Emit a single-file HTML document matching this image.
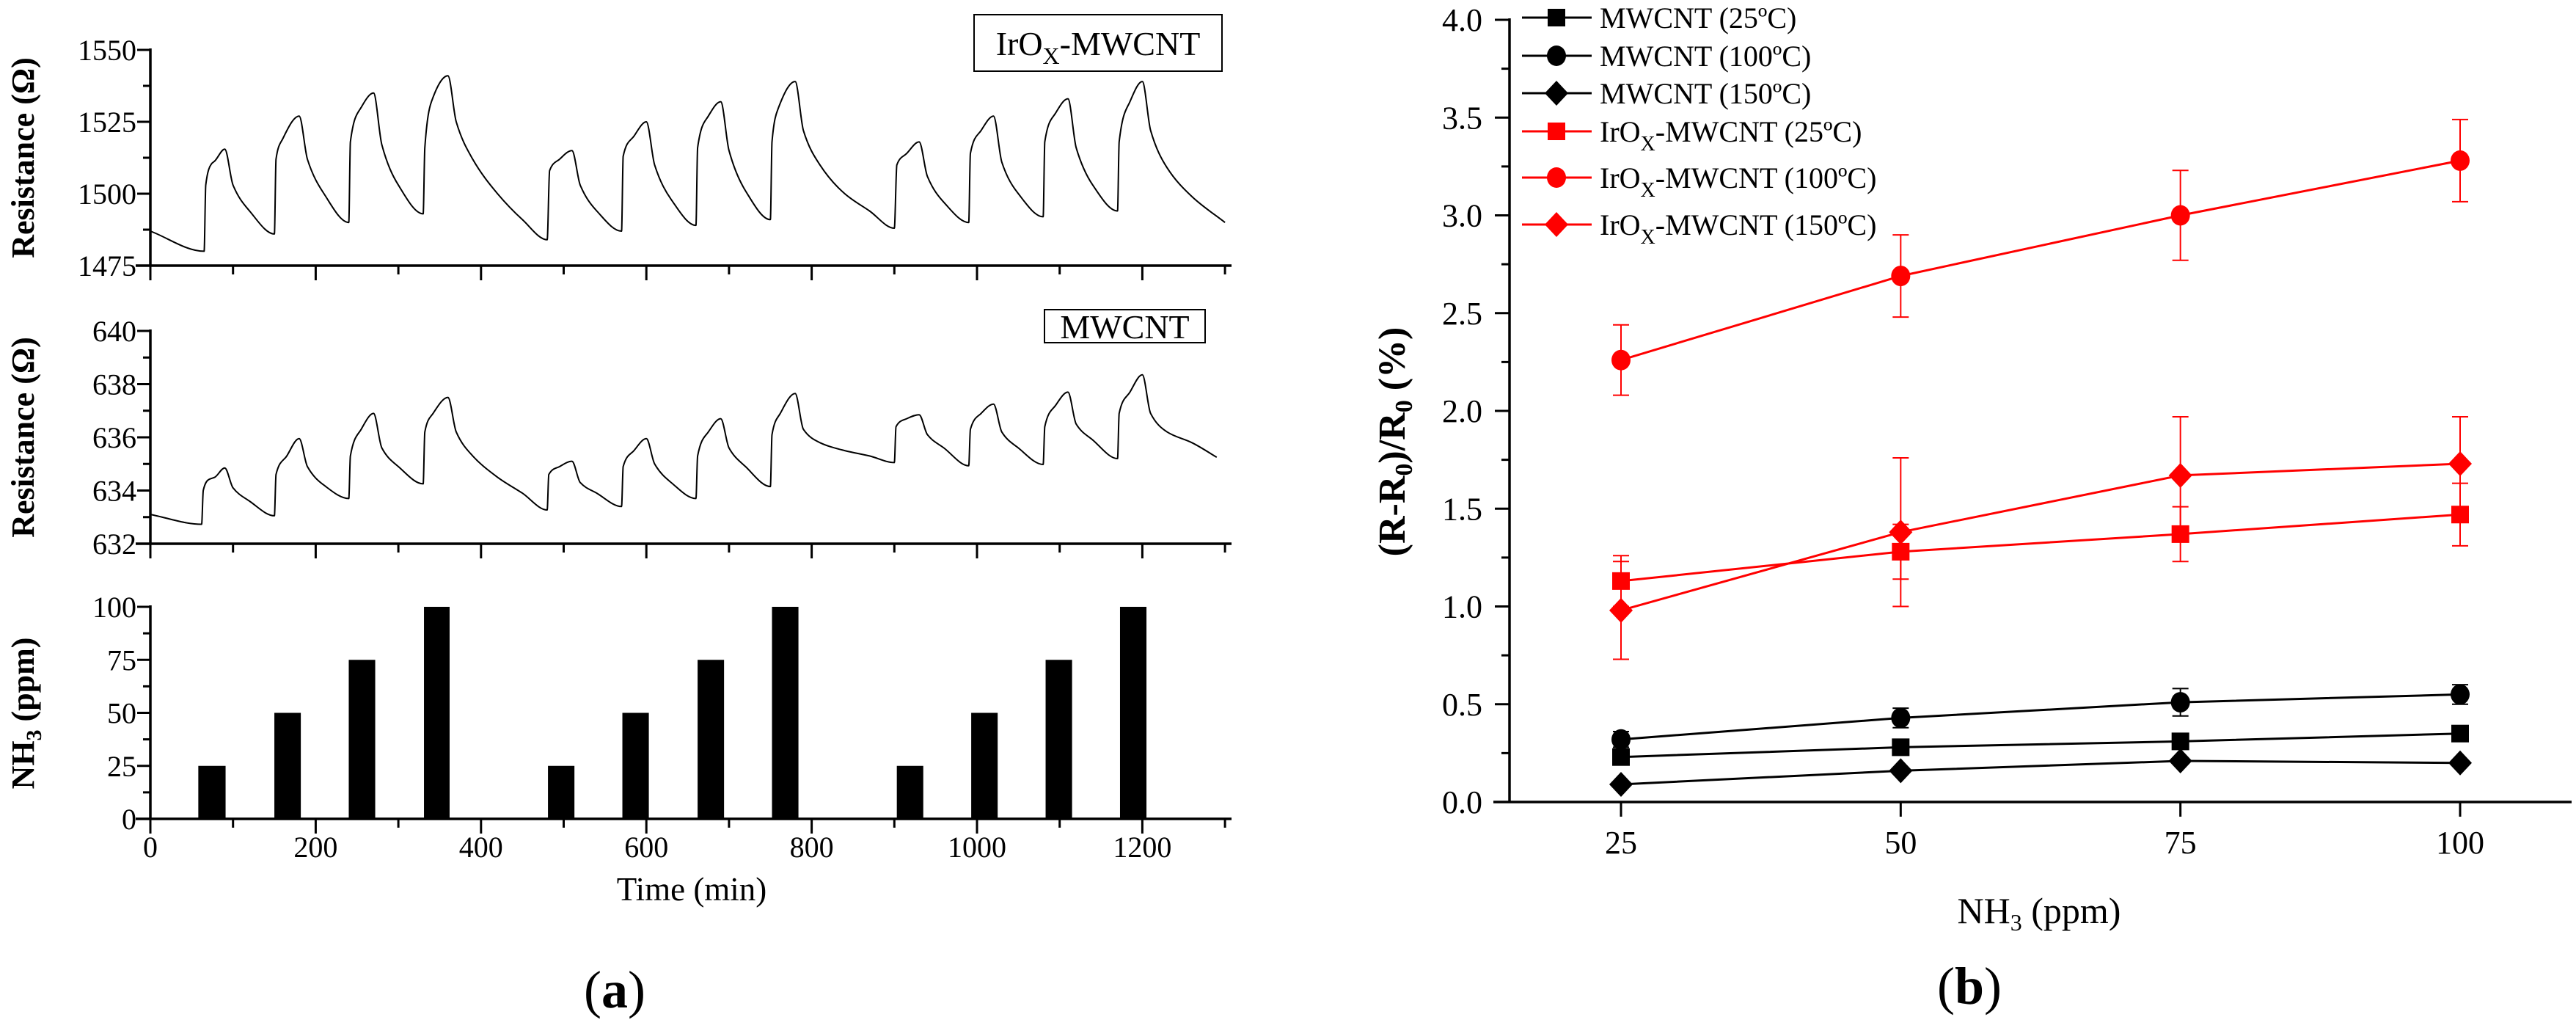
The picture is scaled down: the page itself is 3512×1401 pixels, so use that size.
<!DOCTYPE html>
<html><head><meta charset="utf-8">
<style>
html,body{margin:0;padding:0;background:#fff;}
svg{display:block;font-family:"Liberation Serif",serif;}
</style></head>
<body>
<svg id="fig" width="3512" height="1401" viewBox="0 0 3512 1401" xmlns="http://www.w3.org/2000/svg"></svg>
<script>
// ---------- Panel (a) data ----------
const irTime = [0,65,67,74,78,90,100,120,150,152,160,180,190,210,240,242,255,270,280,300,330,332,340,360,370,390,420,450,480,483,495,510,520,540,570,572,585,600,610,630,660,662,675,690,700,720,750,752,760,780,790,810,840,870,900,903,915,930,940,960,990,992,1005,1020,1030,1050,1080,1082,1095,1110,1120,1140,1170,1172,1185,1200,1210,1230,1260,1300];
const irRes  = [1487,1480,1503,1510.4,1511.4,1515.5,1503,1494,1486,1512,1519,1527,1512,1500,1490,1518,1530,1535,1517,1503,1493,1516,1532,1541,1525,1512,1500,1491,1484,1508,1512,1515,1503,1494,1487,1513,1520,1525,1510,1498,1489,1516,1527,1532,1515,1501,1491,1518,1530,1539,1522,1510,1500,1494,1488,1510,1514,1518,1506,1497,1490,1514,1522,1527,1511,1500,1492,1518,1528,1533,1516,1503,1494,1518,1532,1539,1522,1509,1499,1490];
const mwTime = [0,62,64,70,78,90,100,120,150,152,165,180,190,210,240,242,255,270,280,300,330,332,342,360,370,390,420,450,480,482,495,510,520,540,570,572,585,600,610,630,660,662,675,690,700,720,750,752,762,780,790,810,840,870,900,902,915,930,940,960,990,992,1005,1020,1030,1050,1080,1082,1095,1110,1120,1140,1170,1172,1185,1200,1210,1230,1260,1290];
const mwRes  = [633.1,632.73,634.0,634.4,634.5,634.85,634.1,633.6,633.05,634.6,635.3,635.95,634.9,634.2,633.7,635.3,636.3,636.9,635.6,634.9,634.25,636.2,636.9,637.5,636.2,635.3,634.5,633.9,633.27,634.6,634.9,635.1,634.3,633.9,633.4,634.9,635.5,635.95,635.0,634.3,633.7,635.3,636.2,636.7,635.6,634.9,634.15,636.1,636.9,637.65,636.3,635.8,635.5,635.3,635.05,636.4,636.7,636.85,636.1,635.6,634.93,636.3,636.9,637.25,636.2,635.6,634.98,636.4,637.2,637.7,636.5,635.9,635.2,636.9,637.7,638.35,636.9,636.2,635.8,635.25];
const pulseStart = [58,150,240,331,481,571,662,752,903,993,1083,1173];
const pulseEnd   = [91,182,272,362,513,603,694,784,935,1025,1115,1205];
const pulseConc  = [25,50,75,100,25,50,75,100,25,50,75,100];
const timeTicks = [0,200,400,600,800,1000,1200];
const irTicks = [1475,1500,1525,1550];
const mwTicks = [632,634,636,638,640];
const nhTicks = [0,25,50,75,100];

// ---------- Panel (b) data ----------
const concCats = [25,50,75,100];
const mw25  = [0.23,0.28,0.31,0.35];
const mw100 = [0.32,0.43,0.51,0.55];
const mw100Err = [0.04,0.05,0.07,0.05];
const mw150 = [0.09,0.16,0.21,0.20];
const ir25  = [1.13,1.28,1.37,1.47];
const ir25Err = [0.13,0.14,0.14,0.16];
const ir100 = [2.26,2.69,3.00,3.28];
const ir100Err = [0.18,0.21,0.23,0.21];
const ir150 = [0.98,1.38,1.67,1.73];
const ir150Err = [0.25,0.38,0.30,0.24];
const respTicks = ['0.0','0.5','1.0','1.5','2.0','2.5','3.0','3.5','4.0'];
const concTicks = ['25','50','75','100'];

const NS='http://www.w3.org/2000/svg';
const svg=document.getElementById('fig');
function mk(tag,attrs,parent){const e=document.createElementNS(NS,tag);for(const k in attrs)e.setAttribute(k,attrs[k]);(parent||svg).appendChild(e);return e;}
function txt(s,x,y,size,anchor,parent){const t=mk('text',{x:x,y:y,'font-size':size,'text-anchor':anchor||'middle',fill:'#000'},parent);t.textContent=s;return t;}

// ---------- Panel (a) ----------
const ax0=205, ax1=1679;
const tx=t=>ax0+(t/100)*112.7;
const panels=[
 {name:'iro-resistance',top:68,bot:362,min:1475,max:1550,ticks:irTicks,minor:12.5},
 {name:'mwcnt-resistance',top:451,bot:741,min:632,max:640,ticks:mwTicks,minor:1},
 {name:'nh3-pulses',top:827,bot:1116,min:0,max:100,ticks:nhTicks,minor:12.5}
];
panels.forEach(p=>{
  const g=mk('g',{});
  
  
  p.y=v=>p.bot-(v-p.min)/(p.max-p.min)*(p.bot-p.top);
  mk('line',{x1:ax0,y1:p.top-2,x2:ax0,y2:p.bot,stroke:'#000','stroke-width':3.5},g);
  mk('line',{x1:185,y1:p.bot,x2:ax1,y2:p.bot,stroke:'#000','stroke-width':3.5},g);
  for(let v=p.min;v<=p.max+1e-6;v+=p.minor){
    const major=p.ticks.some(t=>Math.abs(t-v)<1e-6);
    mk('line',{x1:ax0,y1:p.y(v),x2:ax0-(major?18:10),y2:p.y(v),stroke:'#000','stroke-width':3},g);
  }
  p.ticks.forEach(v=>{const t=txt(String(v),186,p.y(v)+14,40,'end',g);});
  for(let m=0;m<=1300;m+=100){
    mk('line',{x1:tx(m),y1:p.bot,x2:tx(m),y2:p.bot+(m%200===0?20:12),stroke:'#000','stroke-width':3},g);
  }
});
timeTicks.forEach(v=>{const t=txt(String(v),tx(v),1168,40);});
const xt=txt('Time (min)',943,1227,45);

function ytitle(html,cx,cy,size,name){
  const t=mk('text',{x:0,y:0,'font-size':size,'font-weight':'bold','text-anchor':'middle',transform:`translate(${cx},${cy}) rotate(-90)`});
  t.innerHTML=html;
  
  
  return t;
}
ytitle('Resistance (Ω)',46,215,44,'y-axis-title-iro');
ytitle('Resistance (Ω)',46,596,44,'y-axis-title-mwcnt');
ytitle('NH<tspan font-size="30" dy="10">3</tspan><tspan dy="-10"> (ppm)</tspan>',46,972,44,'y-axis-title-nh3');

// monotone cubic path
function monoPath(xs,ys){
  const n=xs.length,dx=[],m=[],s=[];
  for(let i=0;i<n-1;i++){dx[i]=xs[i+1]-xs[i];s[i]=(ys[i+1]-ys[i])/dx[i];}
  m[0]=s[0];m[n-1]=s[n-2];
  for(let i=1;i<n-1;i++){
    if(s[i-1]*s[i]<=0)m[i]=0;
    else{const w1=2*dx[i]+dx[i-1],w2=dx[i]+2*dx[i-1];m[i]=(w1+w2)/(w1/s[i-1]+w2/s[i]);}
  }
  let d='M'+xs[0].toFixed(1)+' '+ys[0].toFixed(1);
  for(let i=0;i<n-1;i++){
    const h=dx[i]/3;
    d+=`C${(xs[i]+h).toFixed(1)} ${(ys[i]+m[i]*h).toFixed(1)} ${(xs[i+1]-h).toFixed(1)} ${(ys[i+1]-m[i+1]*h).toFixed(1)} ${xs[i+1].toFixed(1)} ${ys[i+1].toFixed(1)}`;
  }
  return d;
}
function curve(times,vals,p,name){
  const xs=times.map(tx),ys=vals.map(p.y);
  const path=mk('path',{d:monoPath(xs,ys),fill:'none',stroke:'#000','stroke-width':2,'stroke-linejoin':'round'});
  
  
}
curve(irTime,irRes,panels[0],'iro-resistance-line');
curve(mwTime,mwRes,panels[1],'mwcnt-resistance-line');
pulseStart.forEach((s,i)=>{
  const p=panels[2];
  const r=mk('rect',{x:tx(s),y:p.y(pulseConc[i]),width:tx(pulseEnd[i])-tx(s),height:p.bot-p.y(pulseConc[i]),fill:'#000'});
  
  
});
function labelBox(x,y,w,h,html,name,dy){
  const g=mk('g',{});
  
  
  mk('rect',{x:x,y:y,width:w,height:h,fill:'#fff',stroke:'#000','stroke-width':2},g);
  const t=mk('text',{x:x+w/2,y:y+h-dy,'font-size':46,'text-anchor':'middle'},g);
  t.innerHTML=html;
}
labelBox(1328,20,338,77,'IrO<tspan font-size="32" dy="12">X</tspan><tspan dy="-12">-MWCNT</tspan>','iro-label-box',22);
labelBox(1424,422,219,45,'MWCNT','mwcnt-label-box',6);
const la=mk('text',{x:838,y:1373,'font-size':72,'text-anchor':'middle'});
la.innerHTML='(<tspan font-weight="bold">a</tspan>)';


// ---------- Panel (b) ----------
const bx0=2058,bx1=3506,by0=1093,byTop=27;
const bx=c=>2210+(c-25)*(3354-2210)/75;
const by=v=>by0-v*(by0-byTop)/4;
const gb=mk('g',{});


mk('line',{x1:bx0,y1:byTop-2,x2:bx0,y2:by0,stroke:'#000','stroke-width':3.5},gb);
mk('line',{x1:2036,y1:by0,x2:bx1,y2:by0,stroke:'#000','stroke-width':3.5},gb);
for(let v=0;v<=4.001;v+=0.25){
  const major=Math.abs(v*2-Math.round(v*2))<1e-6;
  mk('line',{x1:bx0,y1:by(v),x2:bx0-(major?20:11),y2:by(v),stroke:'#000','stroke-width':3},gb);
}
respTicks.forEach(s=>{const t=txt(s,2021,by(parseFloat(s))+15,44,'end',gb);});
concTicks.forEach(s=>{
  const c=parseFloat(s);
  mk('line',{x1:bx(c),y1:by0,x2:bx(c),y2:by0+20,stroke:'#000','stroke-width':3},gb);
  const t=txt(s,bx(c),1163,44,'middle',gb);
});
const bxt=mk('text',{x:2780,y:1258,'font-size':50,'text-anchor':'middle'});
bxt.innerHTML='NH<tspan font-size="32" dy="10">3</tspan><tspan dy="-10"> (ppm)</tspan>';

ytitle('(R-R<tspan font-size="34" dy="10">0</tspan><tspan dy="-10">)/R</tspan><tspan font-size="34" dy="10">0</tspan><tspan dy="-10"> (%)</tspan>',1915,602,52,'y-axis-title');
const lb=mk('text',{x:2685,y:1368,'font-size':72,'text-anchor':'middle'});
lb.innerHTML='(<tspan font-weight="bold">b</tspan>)';


function marker(shape,x,y,col,parent){
  let m;
  if(shape==='square') m=mk('rect',{x:x-12,y:y-12,width:24,height:24,fill:col},parent);
  else if(shape==='circle') m=mk('ellipse',{cx:x,cy:y,rx:13,ry:14,fill:col},parent);
  else m=mk('polygon',{points:`${x},${y-17} ${x+16},${y} ${x},${y+17} ${x-16},${y}`,fill:col},parent);
  return m;
}
const series=[
 {name:'mwcnt-25c',vals:mw25,err:null,shape:'square',col:'#000',label:'MWCNT (25ºC)'},
 {name:'mwcnt-100c',vals:mw100,err:mw100Err,shape:'circle',col:'#000',label:'MWCNT (100ºC)'},
 {name:'mwcnt-150c',vals:mw150,err:null,shape:'diamond',col:'#000',label:'MWCNT (150ºC)'},
 {name:'iro-mwcnt-25c',vals:ir25,err:ir25Err,shape:'square',col:'#f00',label:'IrO<tspan font-size="28" dy="12">X</tspan><tspan dy="-12">-MWCNT (25ºC)</tspan>'},
 {name:'iro-mwcnt-100c',vals:ir100,err:ir100Err,shape:'circle',col:'#f00',label:'IrO<tspan font-size="28" dy="12">X</tspan><tspan dy="-12">-MWCNT (100ºC)</tspan>'},
 {name:'iro-mwcnt-150c',vals:ir150,err:ir150Err,shape:'diamond',col:'#f00',label:'IrO<tspan font-size="28" dy="12">X</tspan><tspan dy="-12">-MWCNT (150ºC)</tspan>'}
];
series.forEach(s=>{
  const g=mk('g',{});
  
  
  if(s.err){s.vals.forEach((v,i)=>{
    const x=bx(concCats[i]);
    mk('line',{x1:x,y1:by(v-s.err[i]),x2:x,y2:by(v+s.err[i]),stroke:s.col,'stroke-width':2},g);
    mk('line',{x1:x-11,y1:by(v-s.err[i]),x2:x+11,y2:by(v-s.err[i]),stroke:s.col,'stroke-width':2},g);
    mk('line',{x1:x-11,y1:by(v+s.err[i]),x2:x+11,y2:by(v+s.err[i]),stroke:s.col,'stroke-width':2},g);
  });}
  const pts=s.vals.map((v,i)=>bx(concCats[i]).toFixed(1)+','+by(v).toFixed(1)).join(' ');
  mk('polyline',{points:pts,fill:'none',stroke:s.col,'stroke-width':3},g);
  s.vals.forEach((v,i)=>{
    const m=marker(s.shape,bx(concCats[i]),by(v),s.col,g);
    
    
  });
});
const legY=[24,76,127,179,242,306];
const leg=mk('g',{});


series.forEach((s,i)=>{
  const g=mk('g',{},leg);
  
  
  mk('line',{x1:2075,y1:legY[i],x2:2170,y2:legY[i],stroke:s.col,'stroke-width':3},g);
  marker(s.shape,2122,legY[i],s.col,g);
  const t=mk('text',{x:2181,y:legY[i]+14,'font-size':40},g);
  t.innerHTML=s.label;
});
</script>
</body></html>
